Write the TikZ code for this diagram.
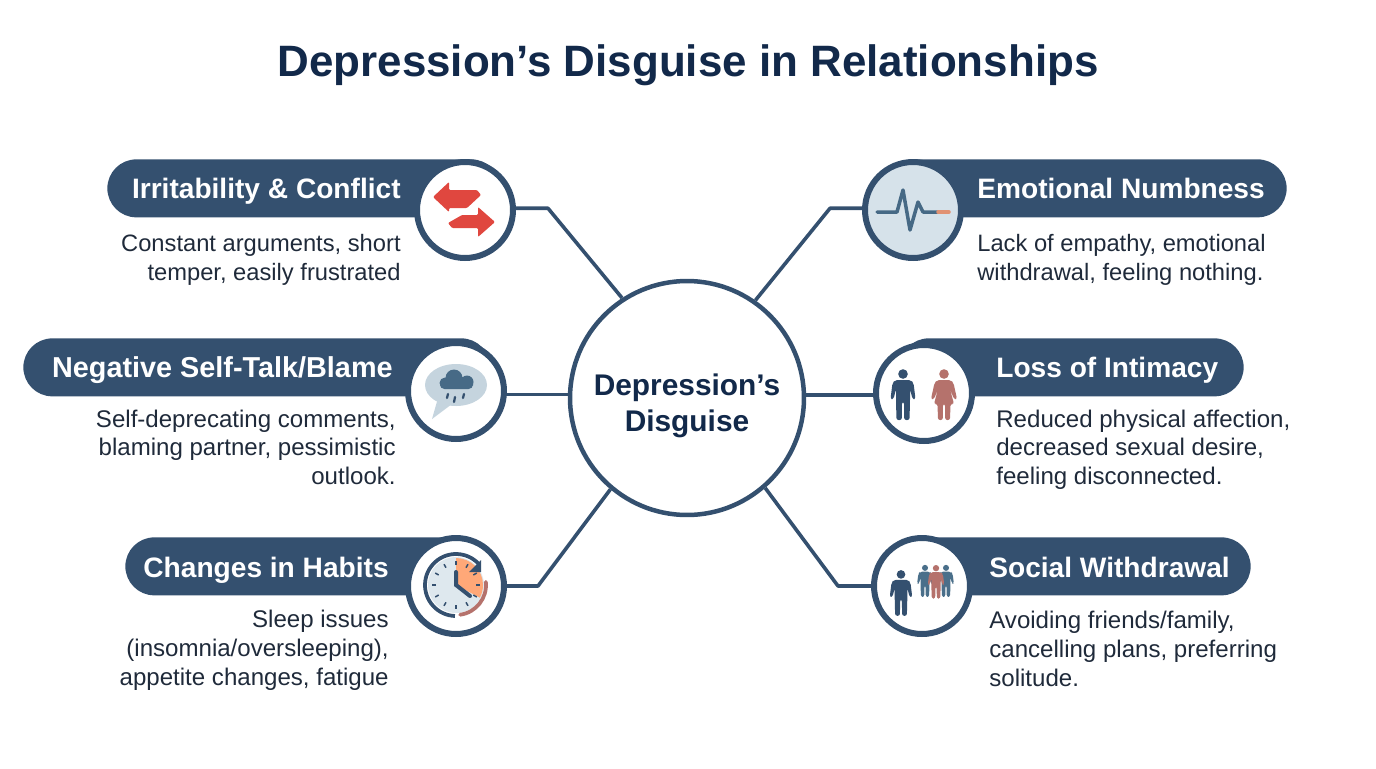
\documentclass[tikz,border=0pt]{standalone}
\usepackage{fontspec}
\setmainfont{Liberation Sans}
\usetikzlibrary{arrows.meta, positioning, calc}
\definecolor{navy}{HTML}{34506F}
\definecolor{ink}{HTML}{12294A}
\definecolor{body}{HTML}{1F2A3A}
\definecolor{slate}{HTML}{4A6F8A}
\definecolor{rose}{HTML}{B5726C}
\definecolor{alarm}{HTML}{E0473F}
\definecolor{peach}{HTML}{FFA878}
\definecolor{mist}{HTML}{D6E2EA}
\tikzset{
    man/.pic={
        \fill (0,-24) circle[radius=4.8];
        \fill[rounded corners=1.2] (-8,-18) -- (8,-18) -- (10.5,-15) -- (12.5,1) -- (9.5,1) -- (7,-9) -- (7,3) -- (6.5,22)
            -- (1.2,22) -- (1,4) -- (-1,4) -- (-1.2,22) -- (-6.5,22) -- (-7,3) -- (-7,-9) -- (-9.5,1) -- (-12.5,1) -- (-10.5,-15) -- cycle;
    },
    woman/.pic={
        \fill (0,-24) circle[radius=4.8];
        \fill[rounded corners=1.2] (-7,-18) -- (7,-18) -- (9.5,-15) -- (13,1) -- (10,1) -- (6,-9) -- (10,6) -- (6.5,6) -- (6,22)
            -- (1.2,22) -- (1,6) -- (-1,6) -- (-1.2,22) -- (-6,22) -- (-6.5,6) -- (-10,6) -- (-6,-9) -- (-10,1) -- (-13,1) -- (-9.5,-15) -- cycle;
    }
}
\begin{document}
\begin{tikzpicture}[
            x=0.02cm, y=-0.02cm,
            pill/.style  ={fill=navy, rounded corners=0.58cm, minimum height=1.16cm},
            badge/.style ={circle, draw=navy, line width=1.2mm, fill=white, minimum size=1.92cm, inner sep=0pt},
            link/.style  ={draw=navy, line width=0.72mm, line join=round},
            head/.style  ={text=white, inner sep=0pt, font=\fontsize{16}{19}\selectfont\bfseries},
            note/.style  ={text=body, inner sep=0pt, font=\fontsize{13.7}{16.3}\selectfont},
            slimnote/.style={note, font=\fontsize{13.5}{16.3}\selectfont}
        ]
        \useasboundingbox (0,0) rectangle (1376,768);

        \node[inner sep=0pt, text=ink, font=\fontsize{25}{29}\selectfont\bfseries] (title) at (688,65) {Depression’s Disguise in Relationships};

        %% --- hub ---
        \node[circle, draw=navy, line width=0.9mm, fill=white, minimum size=4.68cm, inner sep=0pt] (hub) at (687,398) {};
        \node[inner sep=0pt, align=center, text=ink, font=\fontsize{17}{20.5}\selectfont\bfseries] (hubtext) at (687,406) {Depression’s\\Disguise};

        %% --- bars (behind the badges) ---
        \node[pill, anchor=north west, minimum width=7.86cm] (irritbar) at (107,159) {};
        \node[pill, anchor=north west, minimum width=9.34cm] (negbar) at (23,338) {};
        \node[pill, anchor=north west, minimum width=7.3cm] (habitbar) at (125,537) {};
        \node[pill, anchor=north east, minimum width=8.04cm] (numbbar) at (1287,159) {};
        \node[pill, anchor=north east, minimum width=6.88cm] (intimbar) at (1244,338) {};
        \node[pill, anchor=north east, minimum width=7.12cm] (socialbar) at (1251,537) {};

        %% --- badges ---
        \node[badge] (irrit) at (465,210) {};
        \node[badge] (neg) at (456,391) {};
        \node[badge] (habit) at (456,586) {};
        \node[badge, fill=mist] (numb) at (913,210) {};
        \node[badge] (intim) at (924,393) {};
        \node[badge] (social) at (922,586) {};

        %% --- links ---
        \draw[link] (irrit.2) -- ++(32,0) -- (hub.123);
        \draw[link] (neg.-4) -- (neg.-4 -| hub.west);
        \draw[link] (habit.east) -- ++(31,0) -- (hub.230);
        \draw[link] (numb.178) -- ++(-32,0) -- (hub.55);
        \draw[link] (intim.182) -- (intim.182 -| hub.east);
        \draw[link] (social.west) -- ++(-33,0) -- (hub.311);

        %% --- left column ---
        \node[head, anchor=base east] (irrithead) at (401,198) {Irritability \& Conflict};
        \node[slimnote, anchor=north east, align=right] (irritnote) at (401,234) {Constant arguments, short\\temper, easily frustrated};
        \node[head, anchor=base east, font=\fontsize{16.4}{19}\selectfont\bfseries] (neghead) at (393,377) {Negative Self-Talk/Blame};
        \node[note, anchor=north east, align=right] (negnote) at (396,409.5) {Self-deprecating comments,\\blaming partner, pessimistic\\outlook.};
        \node[head, anchor=base east] (habithead) at (389,577) {Changes in Habits};
        \node[note, anchor=north east, align=right] (habitnote) at (389,610) {Sleep issues\\(insomnia/oversleeping),\\appetite changes, fatigue};

        %% --- right column ---
        \node[head, anchor=base west] (numbhead) at (977,198) {Emotional Numbness};
        \node[slimnote, anchor=north west, align=left] (numbnote) at (977,234) {Lack of empathy, emotional\\withdrawal, feeling nothing.};
        \node[head, anchor=base west] (intimhead) at (996,377) {Loss of Intimacy};
        \node[note, anchor=north west, align=left] (intimnote) at (996,409.5) {Reduced physical affection,\\decreased sexual desire,\\feeling disconnected.};
        \node[head, anchor=base west] (socialhead) at (989,577) {Social Withdrawal};
        \node[note, anchor=north west, align=left] (socialnote) at (989,611) {Avoiding friends/family,\\cancelling plans, preferring\\solitude.};

        %% --- icon: swapped arrows ---
        \fill[alarm, rounded corners=0.6] (433,197) -- (449,182) -- (449,190) -- (477,190) -- (481,195) -- (467,208) -- (449,208) -- (449,212) -- cycle;
        \fill[alarm, rounded corners=0.6] (495,222) -- (478,207) -- (478,215) -- (462,215) -- (448,223) -- (452,228) -- (478,228) -- (478,237) -- cycle;

        %% --- icon: pulse ---
        \draw[slate!80!navy, line width=0.7mm, line cap=round, line join=round] (877,212) -- (897,212) -- (903,190) -- (910,230) -- (918,202) -- (923,212) -- (938,212);
        \draw[rose!40!peach, line width=0.7mm, line cap=round] (938,212) -- (949,212);

        %% --- icon: rain cloud in a speech bubble ---
        \fill[mist!88!slate] (456,385) ellipse[x radius=31, y radius=21];
        \fill[mist!88!slate] (438,398) -- (432,419) -- (452,404) -- cycle;
        \fill[slate!85!navy] (454,378) circle[radius=8.5] (445,383) circle[radius=5.5] (467,382) circle[radius=6.5];
        \fill[slate!85!navy, rounded corners=2.5] (440,381) rectangle (473,389);
        \draw[navy, line width=0.45mm, line cap=round] (448,394) -- (447,398) (455,397) -- (454,402) (464,394) -- (463,398);

        %% --- icon: two people ---
        \pic[color=navy] at (903,398) {man};
        \pic[color=rose] at (944,398) {woman};

        %% --- icon: clock ---
        \fill[mist!80!white] (456,585) circle[radius=28];
        \fill[peach] (456,585) -- (456,558) arc[start angle=-90, end angle=28, radius=27] -- cycle;
        \foreach \a in {0,30,...,330}
            \draw[navy, line width=0.3mm] (456,585) ++(\a:20) -- ++(\a:4);
        \draw[navy, line width=0.8mm, line cap=round] (456,572) -- (456,585) -- (470,596);
        \draw[navy, line width=0.75mm] (456,585) ++(-43:31) arc[start angle=-43, end angle=-268, radius=31];
        \fill[navy] (469,572) -- (481,572) -- (481,560) -- cycle;
        \draw[rose, line width=0.75mm, line cap=round] (456,585) ++(-6:30) arc[start angle=-6, end angle=82, radius=30];

        %% --- icon: one person apart from a group ---
        \pic[color=navy, scale=0.9] at (901,596) {man};
        \pic[color=slate, scale=0.63] at (925,583) {man};
        \pic[color=slate, scale=0.63] at (946,583) {man};
        \pic[color=rose, scale=0.66] at (936,584) {man};
\end{tikzpicture}
\end{document}
